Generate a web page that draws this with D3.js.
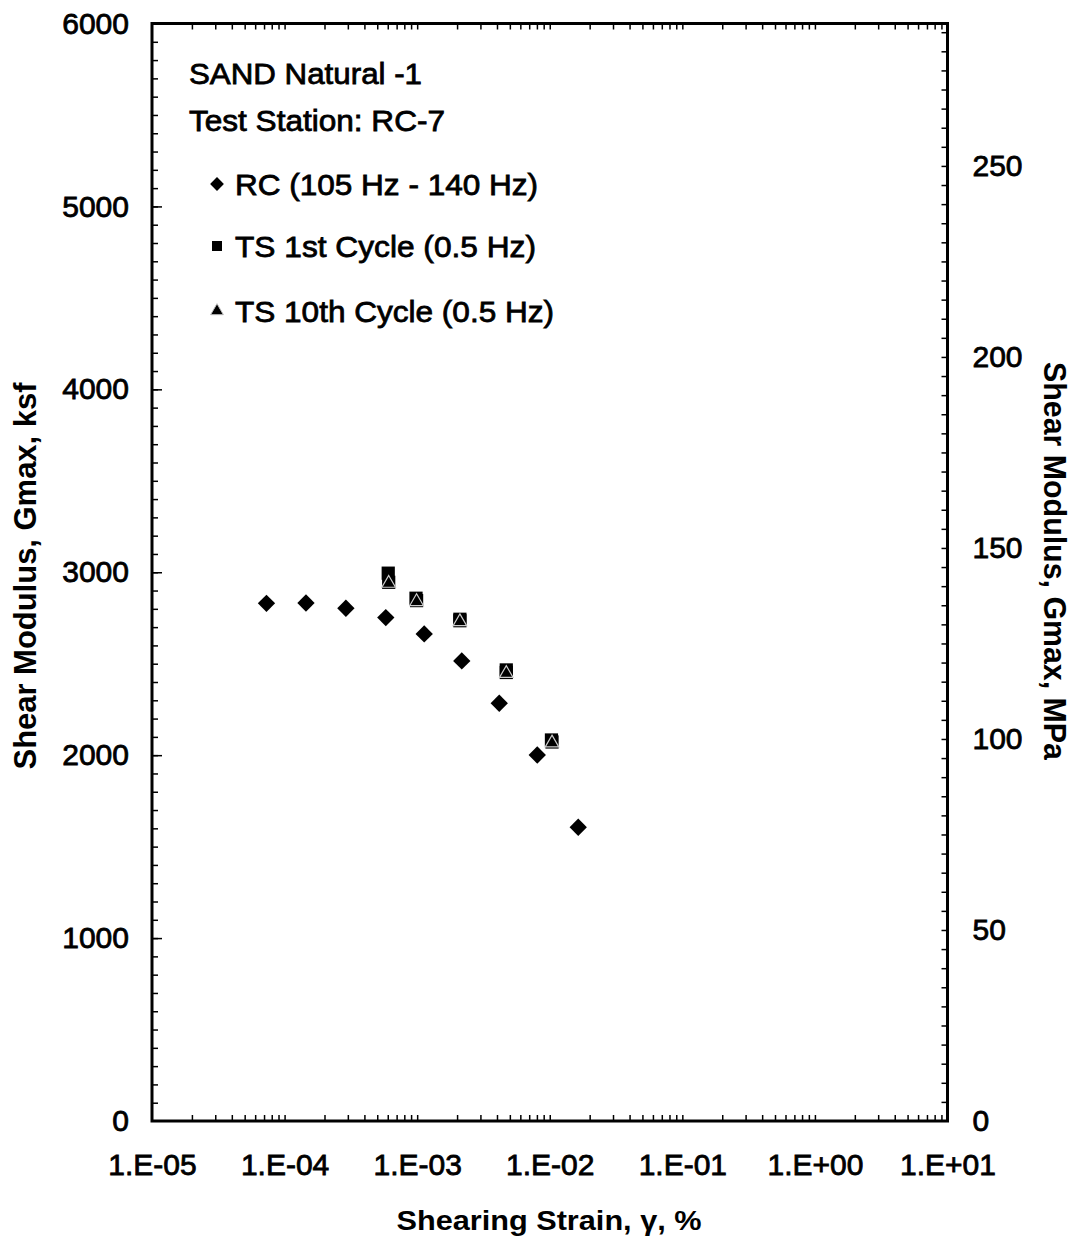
<!DOCTYPE html>
<html>
<head>
<script src="https://cdn.jsdelivr.net/npm/d3@7"></script>
<style>
  body, html { margin: 0; background: #fff; }
  svg text { font-family: 'Liberation Sans', Arial, sans-serif; fill: #000; }
  .tick line { stroke: #000; stroke-width: 1.5px; }
  .lbl text { font-size: 30px; stroke: #000; stroke-width: 0.8px; }
  .title { font-size: 31px; font-weight: bold; }
  .leg { font-size: 30px; stroke: #000; stroke-width: 0.8px; }
</style>
</head>
<body>
<div id="chart"></div>
<script>
// RC test (105 Hz - 140 Hz)
var rcStrain = [7.3e-5, 1.45e-4, 2.9e-4, 5.8e-4, 1.13e-3, 2.17e-3, 4.16e-3, 8.05e-3, 1.64e-2];
var rcG = [2830, 2832, 2803, 2752, 2663, 2515, 2284, 2001, 1606];
// TS 1st cycle (0.5 Hz)
var ts1Strain = [6.05e-4, 9.8e-4, 2.1e-3, 4.7e-3, 1.03e-2];
var ts1G = [2995, 2858, 2743, 2466, 2083];
// TS 10th cycle (0.5 Hz)
var ts10Strain = [6.1e-4, 9.9e-4, 2.1e-3, 4.7e-3, 1.04e-2];
var ts10G = [2945, 2845, 2735, 2452, 2072];

var decades = [1e-5, 1e-4, 1e-3, 1e-2, 1e-1, 1e0, 1e1];
var gTicks = [0, 1000, 2000, 3000, 4000, 5000, 6000];
var mpaTicks = [0, 50, 100, 150, 200, 250];
var ksfToMpa = 0.04788;

var W = 1073, H = 1241;
var x0 = 152, x1 = 947.5, y0 = 1121, y1 = 23.5;

var svg = d3.select("#chart").append("svg")
  .attr("width", W).attr("height", H);

var x = d3.scaleLog().domain([1e-5, 1e1]).range([x0, x1]);
var y = d3.scaleLinear().domain([0, 6000]).range([y0, y1]);
var y2 = d3.scaleLinear().domain([0, 6000 * ksfToMpa]).range([y0, y1]);

var minorX = x.ticks().filter(d => d > 1e-5 && d < 1e1);
var minorY = d3.range(100, 6000, 100);
var minorY2 = d3.range(5, 6000 * ksfToMpa, 5);

function clean(g) { g.select(".domain").remove(); }

// bottom ticks (inward)
svg.append("g").attr("transform", "translate(0," + y0 + ")")
  .call(d3.axisTop(x).tickValues(minorX).tickSize(6).tickFormat("")).call(clean);
// top ticks (inward)
svg.append("g").attr("transform", "translate(0," + y1 + ")")
  .call(d3.axisBottom(x).tickValues(minorX).tickSize(6).tickFormat("")).call(clean);
// left ticks
svg.append("g").attr("transform", "translate(" + x0 + ",0)")
  .call(d3.axisRight(y).tickValues(minorY).tickSize(6).tickFormat("")).call(clean);
svg.append("g").attr("transform", "translate(" + x0 + ",0)")
  .call(d3.axisRight(y).tickValues(gTicks.slice(1, -1)).tickSize(10).tickFormat("")).call(clean);
// right ticks
svg.append("g").attr("transform", "translate(" + x1 + ",0)")
  .call(d3.axisLeft(y2).tickValues(minorY2).tickSize(6).tickFormat("")).call(clean);

// labels
function fmtE(d) {
  var e = Math.round(Math.log10(d));
  return "1.E" + (e < 0 ? "-" : "+") + String(Math.abs(e)).padStart(2, "0");
}
svg.append("g").attr("class", "lbl").attr("transform", "translate(0," + y0 + ")")
  .call(d3.axisBottom(x).tickValues(decades).tickSize(0).tickPadding(33).tickFormat(fmtE))
  .call(clean);
svg.append("g").attr("class", "lbl").attr("transform", "translate(" + x0 + ",0)")
  .call(d3.axisLeft(y).tickValues(gTicks).tickSize(0).tickPadding(23).tickFormat(d3.format("d")))
  .call(clean);
svg.append("g").attr("class", "lbl").attr("transform", "translate(" + x1 + ",0)")
  .call(d3.axisRight(y2).tickValues(mpaTicks).tickSize(0).tickPadding(25).tickFormat(d3.format("d")))
  .call(clean);
svg.selectAll(".lbl text").attr("font-family", null).attr("font-size", null);

// frame
svg.append("rect").attr("x", x0).attr("y", y1).attr("width", x1 - x0).attr("height", y0 - y1)
  .attr("fill", "none").attr("stroke", "#000").attr("stroke-width", 3);

// axis titles
svg.append("text").attr("class", "title").attr("x", 549).attr("y", 1230)
  .attr("text-anchor", "middle").attr("textLength", 305).attr("lengthAdjust", "spacingAndGlyphs")
  .style("font-size", "27px").text("Shearing Strain, \u03b3, %");
svg.append("text").attr("class", "title")
  .attr("transform", "translate(36,576) rotate(-90)")
  .attr("text-anchor", "middle").attr("textLength", 387).attr("lengthAdjust", "spacingAndGlyphs")
  .text("Shear Modulus, Gmax, ksf");
svg.append("text").attr("class", "title")
  .attr("transform", "translate(1044,561) rotate(90)")
  .attr("text-anchor", "middle").attr("textLength", 398).attr("lengthAdjust", "spacingAndGlyphs")
  .text("Shear Modulus, Gmax, MPa");

// markers
var diamond = d3.symbol().type(d3.symbolSquare).size(150);
var square = d3.symbol().type(d3.symbolSquare).size(175);
var tri = d3.symbol().type(d3.symbolTriangle).size(80);

var rc = rcStrain.map((s, i) => ({ s: s, g: rcG[i] }));
var ts1 = ts1Strain.map((s, i) => ({ s: s, g: ts1G[i] }));
var ts10 = ts10Strain.map((s, i) => ({ s: s, g: ts10G[i] }));

svg.append("g").selectAll("path").data(ts1).enter().append("path")
  .attr("d", square)
  .attr("transform", d => "translate(" + x(d.s) + "," + y(d.g) + ")")
  .attr("fill", "#000");
svg.append("g").selectAll("path").data(ts10).enter().append("path")
  .attr("d", square)
  .attr("transform", d => "translate(" + x(d.s) + "," + y(d.g) + ")")
  .attr("fill", "#000");
svg.append("g").selectAll("path").data(ts10).enter().append("path")
  .attr("d", tri)
  .attr("transform", d => "translate(" + x(d.s) + "," + (y(d.g) + 1) + ")")
  .attr("fill", "#000").attr("stroke", "#ccc").attr("stroke-width", 1.2);
svg.append("g").selectAll("path").data(rc).enter().append("path")
  .attr("d", diamond)
  .attr("transform", d => "translate(" + x(d.s) + "," + y(d.g) + ") rotate(45)")
  .attr("fill", "#000");

// legend / notes
svg.append("text").attr("class", "leg").attr("x", 189).attr("y", 84)
  .attr("textLength", 233).attr("lengthAdjust", "spacingAndGlyphs").text("SAND Natural -1");
svg.append("text").attr("class", "leg").attr("x", 189).attr("y", 131)
  .attr("textLength", 256).attr("lengthAdjust", "spacingAndGlyphs").text("Test Station: RC-7");
var legItems = [
  { label: "RC (105 Hz - 140 Hz)", y: 184, kind: "rc", w: 303 },
  { label: "TS 1st Cycle (0.5 Hz)", y: 246, kind: "ts1", w: 301 },
  { label: "TS 10th Cycle (0.5 Hz)", y: 311, kind: "ts10", w: 319 }
];
var leg = svg.append("g").selectAll("g").data(legItems).enter().append("g");
leg.append("path")
  .attr("d", d => d.kind === "rc" ? d3.symbol().type(d3.symbolSquare).size(95)()
    : d.kind === "ts1" ? d3.symbol().type(d3.symbolSquare).size(100)()
    : d3.symbol().type(d3.symbolTriangle).size(70)())
  .attr("transform", d => "translate(217," + d.y + ")" + (d.kind === "rc" ? " rotate(45)" : ""))
  .attr("fill", "#000")
  .attr("stroke", d => d.kind === "ts10" ? "#bbb" : "none");
leg.append("text").attr("class", "leg").attr("x", 235).attr("y", d => d.y + 11)
  .attr("textLength", d => d.w).attr("lengthAdjust", "spacingAndGlyphs").text(d => d.label);
</script>
</body>
</html>
